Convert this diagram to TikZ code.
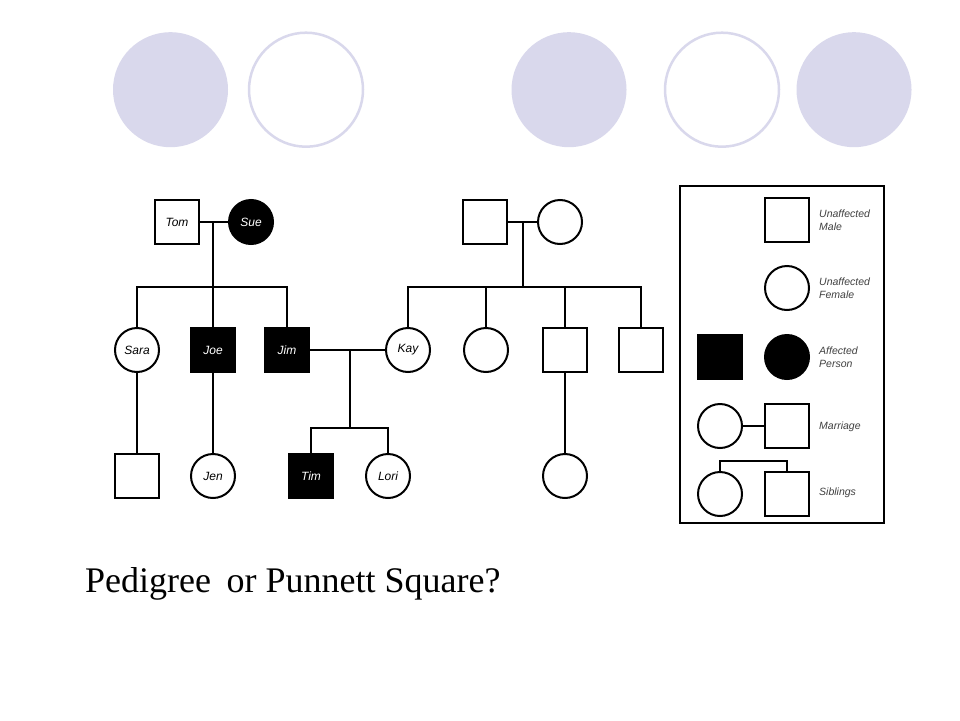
\documentclass[tikz,border=0pt]{standalone}
\usepackage{fontspec}
\setmainfont{Liberation Serif}
\newfontfamily\labelfont{Liberation Sans}
\definecolor{lavender}{RGB}{217,216,236}
\begin{document}
\begin{tikzpicture}[x=1pt,y=-1pt,
	male/.style={draw,line width=2pt,minimum size=44pt,inner sep=0pt,font=\labelfont\itshape\fontsize{12}{12}\selectfont},
	female/.style={male,circle},
	affected/.style={fill=black,text=white},
	key/.style={anchor=west,inner sep=0pt,align=left,text=black!75,font=\labelfont\itshape\fontsize{10.5}{13}\selectfont},
	line/.style={line width=2pt}]
	\pgfmathsetmacro{\rowA}{222};
	\pgfmathsetmacro{\rowB}{350};
	\pgfmathsetmacro{\rowC}{476};
	\fill[white] (0,0) rectangle (960,720);
	\fill[lavender] (170.5,89.7) circle (57.5);
	\draw[lavender,line width=2.5pt] (306,89.7) circle (57);
	\fill[lavender] (569,89.7) circle (57.5);
	\draw[lavender,line width=2.5pt] (722,89.7) circle (57);
	\fill[lavender] (854,89.7) circle (57.5);
	\node[male] (tom) at (177,\rowA) {Tom};
	\node[female,affected] (sue) at (251,\rowA) {Sue};
	\node[female] (sara) at (137,\rowB) {Sara};
	\node[male,affected] (joe) at (213,\rowB) {Joe};
	\node[male,affected] (jim) at (287,\rowB) {Jim};
	\node[female] (kay) at (408,\rowB) {Kay};
	\node[male] (grandpa) at (485,\rowA) {};
	\node[female] (grandma) at (560,\rowA) {};
	\node[female] (aunt) at (486,\rowB) {};
	\node[male] (uncleA) at (565,\rowB) {};
	\node[male] (uncleB) at (641,\rowB) {};
	\node[male] (saraSon) at (137,\rowC) {};
	\node[female] (jen) at (213,\rowC) {Jen};
	\node[male,affected] (tim) at (311,\rowC) {Tim};
	\node[female] (lori) at (388,\rowC) {Lori};
	\node[female] (cousin) at (565,\rowC) {};
	\coordinate (tomSue) at (213,\rowA);
	\coordinate (tomSueKids) at (213,287);
	\coordinate (jimKay) at (350,\rowB);
	\coordinate (jimKayKids) at (350,428);
	\coordinate (kayParents) at (523,\rowA);
	\coordinate (kayParentsKids) at (523,287);
	\draw[line] (tom) -- (sue);
	\draw[line] (tomSue) -- (tomSueKids);
	\draw[line] (sara) |- (tomSueKids) -| (jim);
	\draw[line] (tomSueKids) -- (joe);
	\draw[line] (jim) -- (kay);
	\draw[line] (jimKay) -- (jimKayKids);
	\draw[line] (tim) |- (jimKayKids) -| (lori);
	\draw[line] (grandpa) -- (grandma);
	\draw[line] (kayParents) -- (kayParentsKids);
	\draw[line] (kay) |- (kayParentsKids) -| (uncleB);
	\draw[line] (aunt) -- (aunt |- kayParentsKids);
	\draw[line] (uncleA) -- (uncleA |- kayParentsKids);
	\draw[line] (sara) -- (saraSon);
	\draw[line] (joe) -- (jen);
	\draw[line] (uncleA) -- (cousin);
	\begin{scope}
		\draw[line] (680,186) rectangle (884,523);
		\node[male] (keyMale) at (787,220) {};
		\node[key] (keyMaleText) at (819,220) {Unaffected\\Male};
		\node[female] (keyFemale) at (787,288) {};
		\node[key] (keyFemaleText) at (819,288) {Unaffected\\Female};
		\node[male,affected] (keyAffM) at (720,357) {};
		\node[female,affected] (keyAffF) at (787,357) {};
		\node[key] (keyAffText) at (819,357) {Affected\\Person};
		\node[female] (keyWife) at (720,426) {};
		\node[male] (keyHusband) at (787,426) {};
		\node[key] (keyMarText) at (819,427) {Marriage};
		\node[female] (keySister) at (720,494) {};
		\node[male] (keyBrother) at (787,494) {};
		\node[key] (keySibText) at (819,493) {Siblings};
		\coordinate (keySibs) at (753,461);
		\draw[line] (keyWife) -- (keyHusband);
		\draw[line] (keySister) |- (keySibs) -| (keyBrother);
	\end{scope}
	\node[anchor=base west,inner sep=0pt,font=\fontsize{36}{43}\selectfont] (title) at (85,592) {Pedigree\hspace{0.18em} or Punnett Square?};
\end{tikzpicture}
\end{document}
